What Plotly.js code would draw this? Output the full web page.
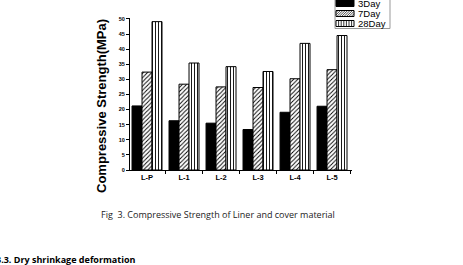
<!DOCTYPE html>
<html><head><meta charset="utf-8">
<script src="https://cdn.plot.ly/plotly-3.0.1.min.js"></script>
<style>html,body{margin:0;padding:0;background:#fff}#c{width:463px;height:265px}</style>
</head><body><div id="c"></div>
<script>
const categories = ["L-P","L-1","L-2","L-3","L-4","L-5"];
const day3  = [21.2, 16.3, 15.5, 13.4, 19.1, 21.1];
const day7  = [32.4, 28.4, 27.5, 27.3, 30.2, 33.2];
const day28 = [49.1, 35.4, 34.2, 32.6, 41.9, 44.5];
const seriesNames = ["3Day","7Day","28Day"];
const yTicks = [0,5,10,15,20,25,30,35,40,45,50];

const F = "Liberation Sans, Arial, sans-serif";
const M = {l:130, r:111, t:18, b:95};
const PW = 463 - M.l - M.r, PH = 265 - M.t - M.b;
const px = v => (v - M.l) / PW;
const py = v => (265 - M.b - v) / PH;

const traces = [
  {type:"bar", name:seriesNames[0], x:categories, y:day3,
   marker:{color:"#000", line:{color:"#000", width:1}}},
  {type:"bar", name:seriesNames[1], x:categories, y:day7,
   marker:{color:"#fff", line:{color:"#000", width:1},
     pattern:{shape:"/", fgcolor:"#000", bgcolor:"#fff", size:3, solidity:0.3}}},
  {type:"bar", name:seriesNames[2], x:categories, y:day28,
   marker:{color:"#fff", line:{color:"#000", width:1},
     pattern:{shape:"|", fgcolor:"#000", bgcolor:"#fff", size:3, solidity:0.3}}}
];

// legend drawn as shapes (compact, like the original)
const shapes = [];
const annotations = [];
const line = (x0,y0,x1,y1,w) => shapes.push({type:"line", xref:"paper", yref:"paper",
  x0:px(x0), y0:py(y0), x1:px(x1), y1:py(y1), line:{color:"#000", width:w||0.8}});
shapes.push({type:"rect", xref:"paper", yref:"paper", x0:px(335), x1:px(390), y0:py(-3), y1:py(28.5),
  fillcolor:"#fff", line:{color:"#999", width:1}});
const rows = [[0,6.5],[10.5,16.5],[20.5,26.5]];
const sx0 = 336, sx1 = 354;
rows.forEach((r, i) => {
  const [y0, y1] = r;
  shapes.push({type:"rect", xref:"paper", yref:"paper", x0:px(sx0), x1:px(sx1), y0:py(y1), y1:py(y0),
    fillcolor: i === 0 ? "#000" : "#fff", line:{color:"#000", width:1}});
  if (i === 1) {
    for (let c = sx0 + y0 + 2; c < sx1 + y1; c += 2.4) {
      const xa = Math.max(sx0, c - y1), xb = Math.min(sx1, c - y0);
      if (xb > xa) line(xa, c - xa, xb, c - xb, 0.7);
    }
  }
  if (i === 2) {
    for (let x = sx0 + 2.6; x < sx1 - 0.5; x += 2.6) line(x, y0, x, y1, 0.8);
  }
  annotations.push({text:seriesNames[i], xref:"paper", yref:"paper", x:px(356), y:py((y0+y1)/2),
    xanchor:"left", yanchor:"middle", showarrow:false, font:{family:F, size:9.5, color:"#000"}});
});

annotations.push(
  {text:"Compressive Strength(MPa)", xref:"paper", yref:"paper", x:px(101), y:py(106),
   xanchor:"center", yanchor:"middle", textangle:-90, showarrow:false,
   font:{family:F, size:13, color:"#000", weight:"bold"}},
  {text:"Fig  3. Compressive Strength of Liner and cover material", xref:"paper", yref:"paper",
   x:px(218), y:py(214), xanchor:"center", yanchor:"middle", showarrow:false,
   font:{family:"Open Sans, Liberation Sans, sans-serif", size:9, color:"#222"}},
  {text:"3.3. Dry shrinkage deformation", xref:"paper", yref:"paper",
   x:px(-6), y:py(259), xanchor:"left", yanchor:"middle", showarrow:false,
   font:{family:"Open Sans, Liberation Sans, sans-serif", size:9, color:"#000", weight:"bold"}}
);

const layout = {
  width:463, height:265,
  margin:Object.assign({autoexpand:false}, M),
  paper_bgcolor:"#fff", plot_bgcolor:"rgba(0,0,0,0)",
  barmode:"group", bargap:0.19, bargroupgap:0,
  showlegend:false,
  xaxis:{type:"category", range:[-0.46,5.54], showline:true, linecolor:"#000", linewidth:1,
    ticks:"outside", tickson:"boundaries", ticklen:3, tickcolor:"#000", showgrid:false, zeroline:false,
    tickfont:{family:F, size:7.5, color:"#000", weight:"bold"}},
  yaxis:{range:[0,50.3], tickvals:yTicks, showline:true, linecolor:"#000", linewidth:1,
    ticks:"outside", ticklen:3, tickcolor:"#000", showgrid:false, zeroline:false,
    tickfont:{family:F, size:5.5, color:"#000", weight:"bold"}},
  shapes:shapes,
  annotations:annotations
};
Plotly.newPlot("c", traces, layout, {staticPlot:true, displayModeBar:false});
</script></body></html>
